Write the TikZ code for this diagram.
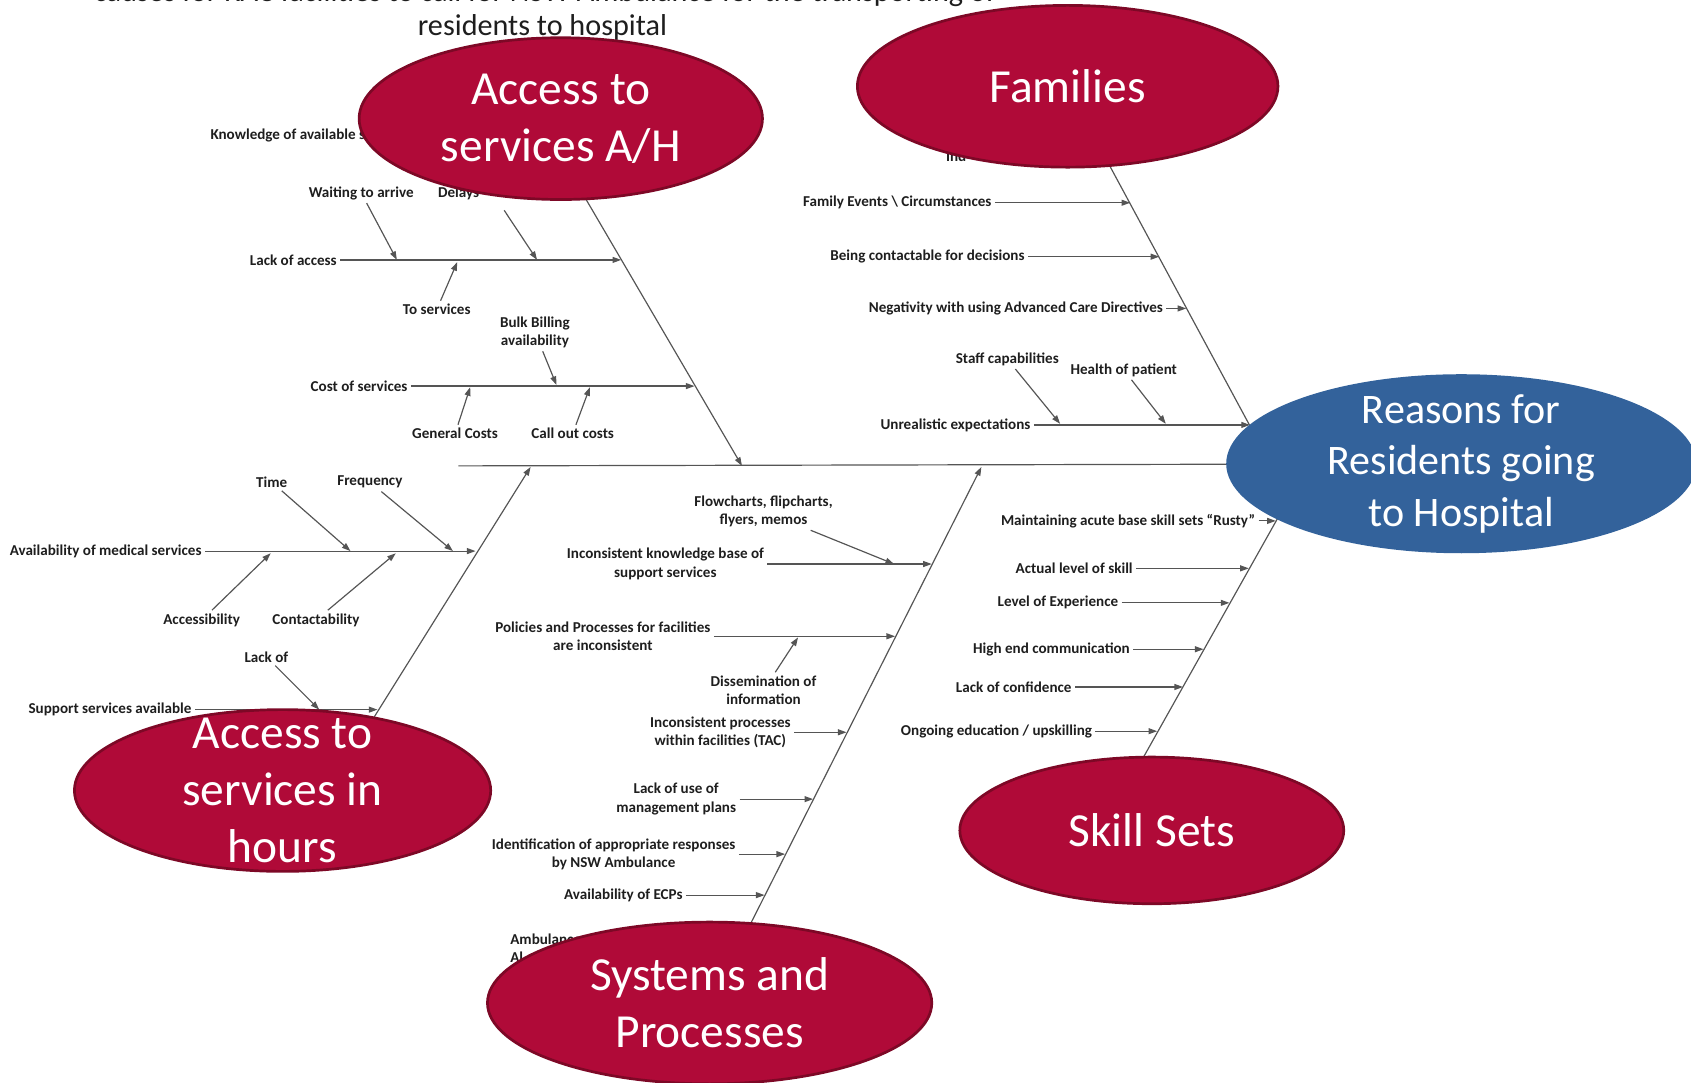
\documentclass[tikz,border=0pt]{standalone}
\usepackage{fontspec}
\setmainfont{Carlito}
\usetikzlibrary{arrows.meta,shapes.geometric}
\definecolor{catRed}{RGB}{176,10,56}
\definecolor{catRedDark}{RGB}{125,8,38}
\definecolor{headBlue}{RGB}{51,98,155}
\definecolor{boneGray}{RGB}{85,85,85}
\definecolor{labelInk}{RGB}{30,30,30}
\tikzset{
    bone/.style={draw=boneGray, line width=1.1pt, -{Triangle[length=8pt,width=5.5pt]}},
    spine/.style={draw=boneGray, line width=1.1pt},
    cause/.style={text=labelInk, font=\bfseries\fontsize{14}{17}\selectfont, align=center, inner sep=3pt},
    catblob/.style={ellipse, fill=catRed, draw=catRedDark, line width=2.5pt, inner sep=0pt},
    cattext/.style={text=white, font=\fontsize{44}{53}\selectfont, align=center, inner sep=0pt},
    heading/.style={text=labelInk, font=\fontsize{28}{34}\selectfont, anchor=base}
}
\newcommand{\drawCause}[5]{
    \node[cause] (#1) at (#2,#3) {#4};
    \coordinate (#1E) at (#5,#3);
    \draw[bone] (#1) -- (#1E);
}
\newcommand{\drawSub}[6]{
    \node[cause] (#1) at (#2,#3) {#4};
    \coordinate (#1E) at (#5,#6);
    \draw[bone] (#1) -- (#1E);
}

\begin{document}
\begin{tikzpicture}[x=1pt,y=-1pt]
            \useasboundingbox (0,0) rectangle (1568,1004);

            \node[heading] (titleA) at (505,1) {causes for RAC facilities to call for NSW Ambulance for the transporting of};
            \node[heading] (titleB) at (503,33) {residents to hospital};

            % spine and main bones
            \coordinate (spineS) at (425,432);
            \coordinate (headC) at (1355,430);
            \draw[spine] (spineS) -- (headC);

            \coordinate (bAHs) at (523,150);
            \coordinate (bAHe) at (688,432);
            \draw[bone] (bAHs) -- (bAHe);
            \coordinate (bFams) at (1000,100);
            \coordinate (bFame) at (1179,432);
            \draw[bone] (bFams) -- (bFame);
            \coordinate (bHrss) at (345,668);
            \coordinate (bHrse) at (492,433);
            \draw[bone] (bHrss) -- (bHrse);
            \coordinate (bSyss) at (674,900);
            \coordinate (bSyse) at (910,433);
            \draw[bone] (bSyss) -- (bSyse);
            \coordinate (bSkls) at (1039,740);
            \coordinate (bSkle) at (1212,432);
            \draw[bone] (bSkls) -- (bSkle);

            % access to services A/H
            \node[cause, anchor=west] (knowAv) at (192,126) {Knowledge of available services};
            \coordinate (knowAvE) at (509,126);
            \draw[bone] (knowAv) -- (knowAvE);
            \drawCause{lackAcc}{272}{241}{Lack of access}{576}
            \drawSub{waitArr}{335}{179}{Waiting to arrive}{368}{241}
            \node[cause, anchor=west] (delays) at (403,179) {Delays};
            \coordinate (delaysE) at (498,241);
            \draw[bone] ([shift={(20,16)}]delays.east) -- (delaysE);
            \drawSub{toServ}{405}{287}{To services}{424}{243}
            \drawCause{costServ}{333}{358}{Cost of services}{644}
            \drawSub{bulkBill}{496}{308}{Bulk Billing\\availability}{516}{357}
            \drawSub{genCost}{422}{402}{General Costs}{436}{359}
            \drawSub{callOut}{531}{402}{Call out costs}{547}{359}

            % families
            \node[cause, anchor=west] (indFam) at (874,145) {Ind};
            \drawCause{famEvent}{832}{188}{Family Events \textbackslash{} Circumstances}{1048}
            \drawCause{contactDec}{860}{238}{Being contactable for decisions}{1075}
            \drawCause{negACD}{942}{286}{Negativity with using Advanced Care Directives}{1100}
            \drawCause{unrealExp}{886}{394}{Unrealistic expectations}{1159}
            \drawSub{staffCap}{934}{333}{Staff capabilities}{983}{393}
            \drawSub{healthPat}{1042}{343}{Health of patient}{1081}{393}

            % access to services in hours
            \drawCause{availMed}{98}{511}{Availability of medical services}{441}
            \drawSub{timeMed}{252}{447}{Time}{325}{511}
            \drawSub{freqMed}{343}{447}{Frequency}{420}{511}
            \drawSub{accessMed}{187}{575}{Accessibility}{251}{513}
            \drawSub{contactMed}{293}{575}{Contactability}{367}{513}
            \drawCause{suppServ}{102}{658}{Support services available}{350}
            \drawSub{lackOf}{247}{609}{Lack of}{296}{658}

            % systems and processes
            \drawSub{flowCh}{708}{474}{Flowcharts, flipcharts,\\flyers, memos}{829}{523}
            \drawCause{knowBase}{617}{523}{Inconsistent knowledge base of\\support services}{864}
            \drawCause{policies}{559}{590}{Policies and Processes for facilities\\are inconsistent}{830}
            \drawSub{dissem}{708}{640}{Dissemination of\\information}{740}{591}
            \drawCause{procTAC}{668}{679}{Inconsistent processes\\within facilities (TAC)}{785}
            \drawCause{mgmtPlans}{627}{741}{Lack of use of\\management plans}{754}
            \drawCause{identResp}{569}{792}{Identification of appropriate responses\\by NSW Ambulance}{728}
            \drawCause{availECP}{578}{830}{Availability of ECPs}{709}
            \node[cause, anchor=west, align=left] (ambul) at (470,879) {Ambulance\\Al};

            % skill sets
            \drawCause{rusty}{1046}{483}{Maintaining acute base skill sets “Rusty”}{1183}
            \drawCause{actSkill}{996}{527}{Actual level of skill}{1158}
            \drawCause{levelExp}{981}{559}{Level of Experience}{1140}
            \drawCause{highComm}{975}{602}{High end communication}{1116}
            \drawCause{lackConf}{940}{637}{Lack of confidence}{1097}
            \drawCause{ongoEdu}{924}{678}{Ongoing education / upskilling}{1073}

            % category heads
            \node[catblob, minimum width=374pt, minimum height=150pt] (accAH) at (520,110) {};
            \node[cattext] (accAHt) at (accAH) {Access to\\services A/H};
            \node[catblob, minimum width=390pt, minimum height=150pt] (fam) at (990,80) {};
            \node[cattext] (famt) at (fam) {Families};
            \node[catblob, minimum width=386pt, minimum height=150pt] (accHrs) at (262,733) {};
            \node[cattext] (accHrst) at (accHrs) {Access to\\services in\\hours};
            \node[catblob, minimum width=356pt, minimum height=136pt] (skl) at (1068,770) {};
            \node[cattext] (sklt) at (skl) {Skill Sets};
            \node[catblob, minimum width=412pt, minimum height=150pt] (sys) at (658,930) {};
            \node[cattext] (syst) at (sys) {Systems and\\Processes};

            \node[catblob, fill=headBlue, draw=none, minimum width=436pt, minimum height=166pt] (head) at (headC) {};
            \node[cattext, font=\fontsize{39}{48}\selectfont] (headt) at (head) {Reasons for\\Residents going\\to Hospital};
\end{tikzpicture}
\end{document}
